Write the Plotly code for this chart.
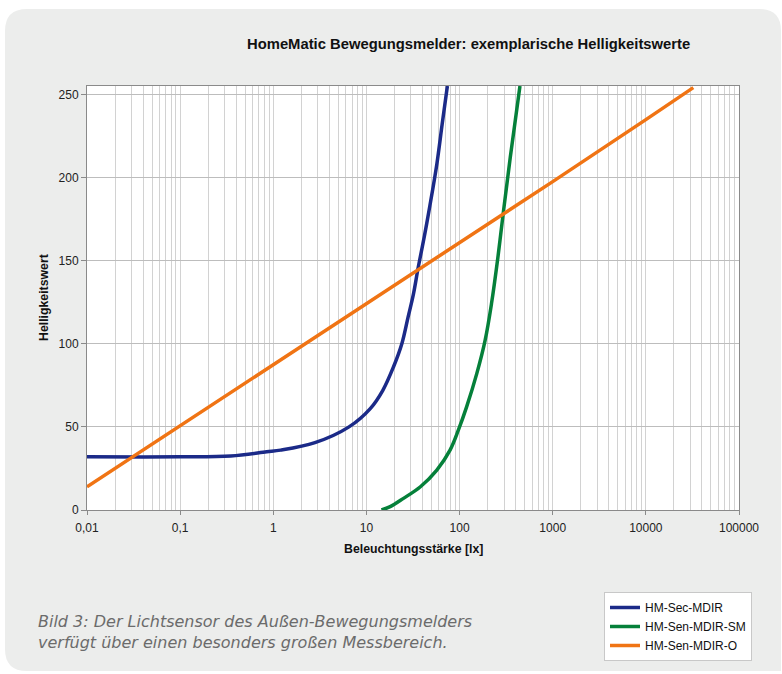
import plotly.graph_objects as go

# ---------------- data ----------------
title_text = "HomeMatic Bewegungsmelder: exemplarische Helligkeitswerte"
x_title = "Beleuchtungsstärke [lx]"
y_title = "Helligkeitswert"
caption = "Bild 3: Der Lichtsensor des Außen-Bewegungsmelders<br>verfügt über einen besonders großen Messbereich."

series_names = ["HM-Sec-MDIR", "HM-Sen-MDIR-SM", "HM-Sen-MDIR-O"]

sec_lux = [0.01, 0.1, 0.35, 0.85, 1.2, 2.8, 6.5, 11, 15, 19.5, 24, 28, 32, 36, 42, 48, 57, 65, 74]
sec_val = [32, 32, 32.5, 35, 36, 40.5, 50, 61, 72, 86, 100, 116, 130, 146, 165, 183, 208, 232, 255]

sm_lux = [14.5, 18, 25, 38, 57, 79, 97, 119, 153, 188, 220, 258, 295, 350, 445]
sm_val = [0, 2, 7, 14, 24, 36, 48, 62, 82, 102, 124, 152, 179, 212, 255]

o_lux = [0.01, 0.1, 1, 10, 100, 505, 1000, 10000, 32300]
o_val = [14, 50.7, 87.4, 124, 160.7, 186.5, 197.5, 234.8, 254]

x_tickvals = [0.01, 0.1, 1, 10, 100, 1000, 10000, 100000]
x_ticktext = ["0,01", "0,1", "1", "10", "100", "1000", "10000", "100000"]
y_tickvals = [0, 50, 100, 150, 200, 250]

colors = ["#1b2a88", "#05803a", "#f07414"]

# ---------------- figure ----------------
W, H = 782, 674
L, R, T, B = 87, 739, 86, 510  # plot area in pixels

def px(x):
    return (x - L) / (R - L)

def py(y):
    return (B - y) / (B - T)

fig = go.Figure()
fig.add_trace(go.Scatter(x=sec_lux, y=sec_val, mode="lines", name=series_names[0],
                         line=dict(color=colors[0], width=3.5, shape="spline", smoothing=1.0)))
fig.add_trace(go.Scatter(x=sm_lux, y=sm_val, mode="lines", name=series_names[1],
                         line=dict(color=colors[1], width=3.5, shape="spline", smoothing=1.0)))
fig.add_trace(go.Scatter(x=o_lux, y=o_val, mode="lines", name=series_names[2],
                         line=dict(color=colors[2], width=3.5)))

# rounded grey panel
pl, pt, pr, pb, rad = 5, 9, 781, 671, 22
path = (f"M {px(pl)},{py(pt+rad)} Q {px(pl)},{py(pt)} {px(pl+rad)},{py(pt)} "
        f"L {px(pr-rad)},{py(pt)} Q {px(pr)},{py(pt)} {px(pr)},{py(pt+rad)} "
        f"L {px(pr)},{py(pb)} L {px(pl+rad)},{py(pb)} Q {px(pl)},{py(pb)} {px(pl)},{py(pb-rad)} Z")
shapes = [
    dict(type="path", xref="paper", yref="paper", path=path, fillcolor="#ecedec",
         line=dict(width=0), layer="below"),
    dict(type="rect", xref="paper", yref="paper", x0=0, x1=1, y0=0, y1=1,
         fillcolor="white", line=dict(width=0), layer="below"),
]

font_main = "Liberation Sans, Arial, sans-serif"

fig.update_layout(
    width=W, height=H,
    margin=dict(l=L, r=W - R, t=T, b=H - B),
    paper_bgcolor="white",
    plot_bgcolor="rgba(0,0,0,0)",
    shapes=shapes,
    font=dict(family=font_main, size=12, color="#222222"),
    showlegend=True,
    legend=dict(x=px(604), y=py(592), xanchor="left", yanchor="top",
                bgcolor="white", bordercolor="#c8c8c8", borderwidth=1,
                font=dict(family=font_main, size=12, color="#111111"),
                tracegroupgap=0, itemwidth=30),
    annotations=[
        dict(text="<b>" + title_text + "</b>", x=px(468), y=py(44), xref="paper", yref="paper",
             showarrow=False, xanchor="center", yanchor="middle",
             font=dict(family=font_main, size=14.8, color="#111111")),
        dict(text="<b>" + x_title + "</b>", x=px(413), y=py(549), xref="paper", yref="paper",
             showarrow=False, xanchor="center", yanchor="middle",
             font=dict(family=font_main, size=12.3, color="#111111")),
        dict(text="<b>" + y_title + "</b>", x=px(44), y=py(298), xref="paper", yref="paper",
             showarrow=False, xanchor="center", yanchor="middle", textangle=-90,
             font=dict(family=font_main, size=12.3, color="#111111")),
        dict(text="<i>" + caption + "</i>", x=px(36), y=py(632), xref="paper", yref="paper",
             showarrow=False, xanchor="left", yanchor="middle", align="left",
             font=dict(family="DejaVu Sans, sans-serif", size=16, color="#6b6b6b")),
    ],
)

fig.update_xaxes(
    type="log", range=[-2, 5],
    tickvals=x_tickvals, ticktext=x_ticktext,
    showgrid=True, gridcolor="#d2d2d2", gridwidth=1,
    minor=dict(dtick="D1", showgrid=True, gridcolor="#d2d2d2", gridwidth=1, ticks=""),
    ticks="outside", ticklen=4, tickcolor="#8a8a8a", ticklabelstandoff=3,
    showline=True, linecolor="#8a8a8a", linewidth=1, mirror=True,
    tickfont=dict(family=font_main, size=12, color="#222222"),
    zeroline=False,
)
fig.update_yaxes(
    range=[0, 255],
    tickvals=y_tickvals,
    showgrid=True, gridcolor="#bdbdbd", gridwidth=1,
    ticks="outside", ticklen=5, tickcolor="#8a8a8a",
    showline=True, linecolor="#8a8a8a", linewidth=1, mirror=True,
    tickfont=dict(family=font_main, size=12, color="#222222"),
    zeroline=False,
)

fig.write_html("out.html", config={"displayModeBar": False},
               post_script="document.body.style.margin='0px';")
